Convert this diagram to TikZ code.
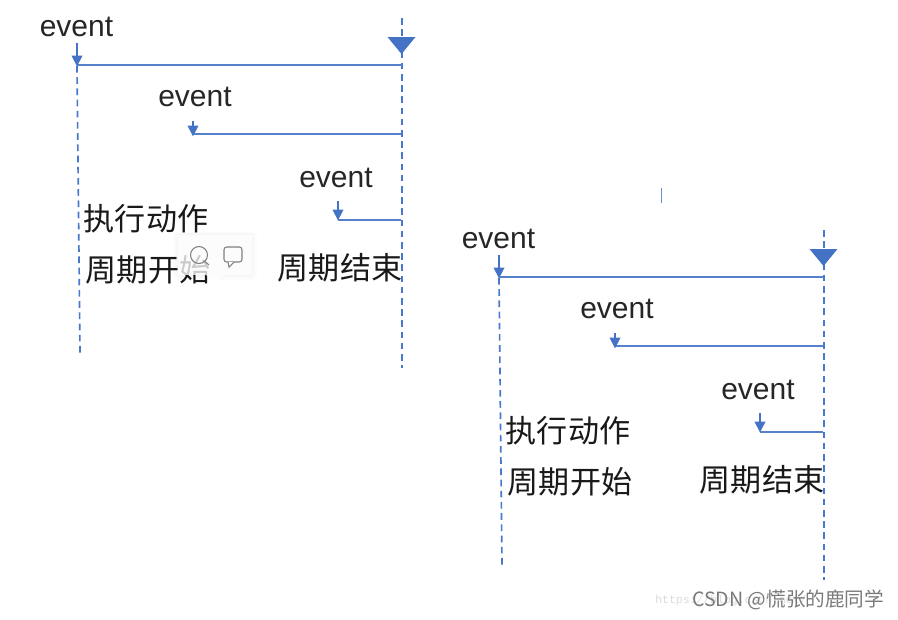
\documentclass[tikz,border=0pt]{standalone}
\usepackage{fontspec}
\setmainfont{Liberation Sans}
\newfontfamily\cjkfont{Noto Sans CJK SC}
\newfontfamily\wmono{Liberation Mono}
\usetikzlibrary{arrows.meta}
\definecolor{lineblue}{RGB}{68,114,196}
\definecolor{dashblue}{RGB}{72,120,205}
\tikzset{
  x=0.75pt,y=-0.75pt,
  evlabel/.style={inner sep=0,anchor=center,text=black!85,font=\fontsize{22.5pt}{24pt}\selectfont},
  cnlabel/.style={inner sep=0,anchor=center,text=black!90,font=\cjkfont\fontsize{23.3pt}{25pt}\selectfont},
  lifeline/.style={draw=dashblue,line width=1pt,dash pattern=on 5pt off 3.4pt},
  period/.style={draw=lineblue!90!white,line width=1pt},
  evarrow/.style={draw=lineblue,line width=1.1pt,-{Triangle[length=8pt,width=8pt]},shorten >=-1pt},
  marker/.style={fill=lineblue,draw=none},
  iconline/.style={draw=black!50,line width=0.8pt},
  wmark/.style={inner sep=0,anchor=west},
  cycle diagram/.pic={
    \coordinate (-ltop) at (77,66);
    \coordinate (-lmid) at (78,200);
    \coordinate (-lbot) at (80,353);
    \coordinate (-rtop) at (402,18);
    \coordinate (-rbot) at (402,368);
    \coordinate (-a1) at (77,43);
    \coordinate (-a1e) at (77,65);
    \coordinate (-r1) at (402,65);
    \coordinate (-a2) at (193,121);
    \coordinate (-a2e) at (193,135);
    \coordinate (-r2) at (401,134);
    \coordinate (-a3) at (338,201);
    \coordinate (-a3e) at (338,219);
    \coordinate (-r3) at (401,220);
    \draw[lifeline,line width=1.25pt] (-ltop) -- (-lbot);
    \draw[lifeline] (-rtop) -- (-rbot);
    \draw[period] (-a1e) -- (-r1);
    \draw[period] (-a2e |- -r2) -- (-r2);
    \draw[period] (-a3e |- -r3) -- (-r3);
    \draw[evarrow] (-a1) -- (-a1e);
    \draw[evarrow] (-a2) -- (-a2e);
    \draw[evarrow] (-a3) -- (-a3e);
    \fill[marker] (387.5,37) -- (415.5,37) -- (401.5,54) -- cycle;
    \node[evlabel] (-e1) at (76.5,27) {event};
    \node[evlabel] (-e2) at (195,97) {event};
    \node[evlabel] (-e3) at (336,178) {event};
    \node[cnlabel] (-act) at (146,219) {执行动作};
    \node[cnlabel] (-start) at (148,270) {周期开始};
    \node[cnlabel] (-end) at (340,268) {周期结束};
  }
}
\begin{document}
\begin{tikzpicture}
\useasboundingbox (0,0) rectangle (898,619);
\fill[white] (0,0) rectangle (898,619);
\pic (g) at (0,0) {cycle diagram};
\pic (h) at (422,212) {cycle diagram};
% popup toolbar over the first diagram
\fill[black,opacity=0.012,rounded corners=3pt] (173,232) rectangle (257,280);
\fill[black,opacity=0.012,rounded corners=3pt] (175,233) rectangle (255,278);
\fill[black,opacity=0.015,rounded corners=2pt] (177,234) rectangle (253,276);
\fill[white,opacity=0.78] (178,235) rectangle (252,275);
\fill[white,opacity=0.78] (206,275) -- (224,275) -- (215,283) -- cycle;
\draw[iconline] (199,255) circle (8.5);
\draw[iconline] (205,261.5) -- (209,265);
\draw[iconline,rounded corners=2pt] (224,247) rectangle (242,262);
\draw[iconline,fill=white] (228,262) -- (229,267) -- (234,262);
% text cursor
\coordinate (cur1) at (661.5,188);
\coordinate (cur2) at (661.5,203);
\draw[draw=lineblue!80,line width=0.9pt] (cur1) -- (cur2);
% watermarks
\node[wmark,text=black!14,font=\wmono\fontsize{8.6pt}{10pt}\selectfont] (wm1) at (655,600.5) {https://blog.csdn.net/};
\node[wmark,text=black!52,font=\cjkfont\fontsize{14.7pt}{16pt}\selectfont] (wm2) at (692,600) {CSDN @慌张的鹿同学};
\end{tikzpicture}
\end{document}
